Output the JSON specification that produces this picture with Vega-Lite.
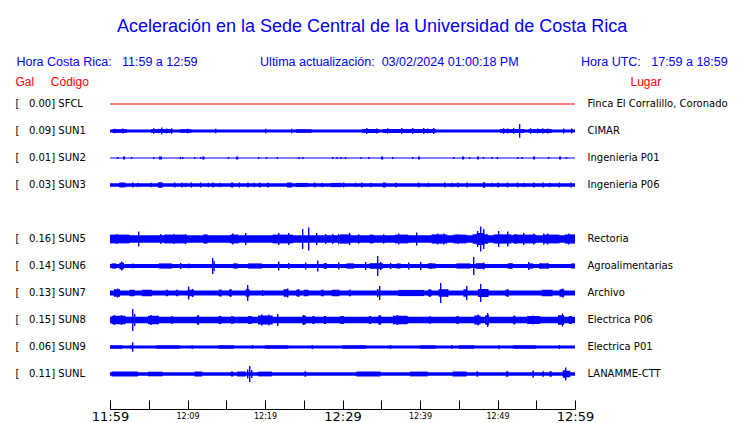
{
"$schema": "https://vega.github.io/schema/vega-lite/v6.json",
"autosize": "none",
"width": 465,
"height": 297,
"padding": {"left": 110, "top": 90.5, "right": 165, "bottom": 35.5},
"background": "white",
"config": {"view": {"stroke": null}, "font": "DejaVu Sans"},
"title": {
  "text": "Aceleración en la Sede Central de la Universidad de Costa Rica",
  "subtitle": "Hora Costa Rica:\u00a0\u00a0\u00a011:59 a 12:59\u00a0\u00a0\u00a0\u00a0\u00a0\u00a0\u00a0\u00a0\u00a0\u00a0\u00a0\u00a0\u00a0\u00a0\u00a0\u00a0\u00a0\u00a0Ultima actualización:\u00a0\u00a003/02/2024 01:00:18 PM\u00a0\u00a0\u00a0\u00a0\u00a0\u00a0\u00a0\u00a0\u00a0\u00a0\u00a0\u00a0\u00a0\u00a0\u00a0\u00a0\u00a0\u00a0Hora UTC:\u00a0\u00a0\u00a017:59 a 18:59",
  "anchor": "middle",
  "frame": "bounds",
  "dx": 1,
  "font": "Liberation Sans",
  "fontSize": 18,
  "fontWeight": "normal",
  "color": "#0000ff",
  "subtitleFont": "Liberation Sans",
  "subtitleFontSize": 12.5,
  "subtitleColor": "#0000ff",
  "subtitlePadding": 20,
  "offset": 7
},
"datasets": {
  "stations": [
    {"s": "SFCL", "lab": "[\u00a0\u00a0\u00a00.00] SFCL", "lugar": "Finca El Corralillo, Coronado"},
    {"s": "SUN1", "lab": "[\u00a0\u00a0\u00a00.09] SUN1", "lugar": "CIMAR"},
    {"s": "SUN2", "lab": "[\u00a0\u00a0\u00a00.01] SUN2", "lugar": "Ingenieria P01"},
    {"s": "SUN3", "lab": "[\u00a0\u00a0\u00a00.03] SUN3", "lugar": "Ingenieria P06"},
    {"s": "SUN5", "lab": "[\u00a0\u00a0\u00a00.16] SUN5", "lugar": "Rectoria"},
    {"s": "SUN6", "lab": "[\u00a0\u00a0\u00a00.14] SUN6", "lugar": "Agroalimentarias"},
    {"s": "SUN7", "lab": "[\u00a0\u00a0\u00a00.13] SUN7", "lugar": "Archivo"},
    {"s": "SUN8", "lab": "[\u00a0\u00a0\u00a00.15] SUN8", "lugar": "Electrica P06"},
    {"s": "SUN9", "lab": "[\u00a0\u00a0\u00a00.06] SUN9", "lugar": "Electrica P01"},
    {"s": "SUNL", "lab": "[\u00a0\u00a0\u00a00.11] SUNL", "lugar": "LANAMME-CTT"}
  ],
  "waves": [
    {"s":"SFCL","t0":0,"t1":60,"a":1},
    {"s":"SUN1","t0":0,"t1":60,"a":3},
    {"s":"SUN2","t0":0,"t1":60,"a":1},
    {"s":"SUN3","t0":0,"t1":60,"a":3.3},
    {"s":"SUN5","t0":0,"t1":60,"a":7.5},
    {"s":"SUN6","t0":0,"t1":60,"a":4},
    {"s":"SUN7","t0":0,"t1":60,"a":5},
    {"s":"SUN8","t0":0,"t1":60,"a":6.7},
    {"s":"SUN9","t0":0,"t1":60,"a":2.8},
    {"s":"SUNL","t0":0,"t1":60,"a":3.6},

    {"s":"SUN1","t0":0.3,"t1":2.2,"a":3.5},
    {"s":"SUN1","t0":5.3,"t1":8.0,"a":3.8},
    {"s":"SUN1","t0":9,"t1":10.5,"a":3.5},
    {"s":"SUN1","t0":24,"t1":26,"a":3.5},
    {"s":"SUN1","t0":32.5,"t1":34.7,"a":3.8},
    {"s":"SUN1","t0":35.2,"t1":42,"a":3.8},
    {"s":"SUN1","t0":50.3,"t1":53.5,"a":3.8},
    {"s":"SUN1","t0":54,"t1":57,"a":3.8},
    {"s":"SUN1","t0":0.52,"t1":0.7,"a":4.5},
    {"s":"SUN1","t0":1.55,"t1":1.73,"a":5},
    {"s":"SUN1","t0":5.55,"t1":5.73,"a":5.5},
    {"s":"SUN1","t0":6.19,"t1":6.37,"a":4.5},
    {"s":"SUN1","t0":6.58,"t1":6.76,"a":7},
    {"s":"SUN1","t0":7.23,"t1":7.41,"a":5},
    {"s":"SUN1","t0":7.87,"t1":8.05,"a":5.5},
    {"s":"SUN1","t0":9.94,"t1":10.12,"a":4.5},
    {"s":"SUN1","t0":13.55,"t1":13.73,"a":4.5},
    {"s":"SUN1","t0":20,"t1":20.18,"a":4.5},
    {"s":"SUN1","t0":23.35,"t1":23.53,"a":4.5},
    {"s":"SUN1","t0":33.03,"t1":33.21,"a":6},
    {"s":"SUN1","t0":34.32,"t1":34.5,"a":5},
    {"s":"SUN1","t0":35.74,"t1":35.92,"a":5.5},
    {"s":"SUN1","t0":37.55,"t1":37.73,"a":6},
    {"s":"SUN1","t0":38.97,"t1":39.15,"a":6},
    {"s":"SUN1","t0":40.39,"t1":40.57,"a":6},
    {"s":"SUN1","t0":40.9,"t1":41.08,"a":5},
    {"s":"SUN1","t0":41.68,"t1":41.86,"a":6},
    {"s":"SUN1","t0":50.71,"t1":50.89,"a":5.5},
    {"s":"SUN1","t0":51.23,"t1":51.41,"a":5},
    {"s":"SUN1","t0":52,"t1":52.18,"a":5.5},
    {"s":"SUN1","t0":52.77,"t1":52.95,"a":13.5},
    {"s":"SUN1","t0":54.19,"t1":54.37,"a":5.5},
    {"s":"SUN1","t0":55.1,"t1":55.28,"a":5},
    {"s":"SUN1","t0":55.74,"t1":55.92,"a":5.5},
    {"s":"SUN1","t0":56.39,"t1":56.57,"a":5},
    {"s":"SUN1","t0":58.45,"t1":58.63,"a":5},
    {"s":"SUN1","t0":59.48,"t1":59.66,"a":5},

    {"s":"SUN2","t0":0.9,"t1":1.08,"a":2},
    {"s":"SUN2","t0":1.68,"t1":1.95,"a":3},
    {"s":"SUN2","t0":2.7,"t1":2.88,"a":2},
    {"s":"SUN2","t0":5.55,"t1":5.73,"a":2},
    {"s":"SUN2","t0":6.3,"t1":6.7,"a":3},
    {"s":"SUN2","t0":9.0,"t1":9.18,"a":2},
    {"s":"SUN2","t0":9.3,"t1":9.48,"a":2},
    {"s":"SUN2","t0":10.84,"t1":11.02,"a":2},
    {"s":"SUN2","t0":11.6,"t1":11.78,"a":2},
    {"s":"SUN2","t0":11.9,"t1":12.2,"a":3},
    {"s":"SUN2","t0":15.2,"t1":15.38,"a":2},
    {"s":"SUN2","t0":16.26,"t1":16.55,"a":3},
    {"s":"SUN2","t0":19.1,"t1":19.28,"a":2},
    {"s":"SUN2","t0":20.1,"t1":20.28,"a":2},
    {"s":"SUN2","t0":21.5,"t1":21.68,"a":2},
    {"s":"SUN2","t0":24.3,"t1":24.48,"a":2},
    {"s":"SUN2","t0":24.8,"t1":24.98,"a":2},
    {"s":"SUN2","t0":28.65,"t1":28.83,"a":2},
    {"s":"SUN2","t0":29.2,"t1":29.38,"a":2},
    {"s":"SUN2","t0":29.7,"t1":29.88,"a":2},
    {"s":"SUN2","t0":30.3,"t1":30.48,"a":2},
    {"s":"SUN2","t0":32.3,"t1":32.48,"a":2},
    {"s":"SUN2","t0":33.3,"t1":33.48,"a":2},
    {"s":"SUN2","t0":34.97,"t1":35.25,"a":3},
    {"s":"SUN2","t0":36.39,"t1":36.57,"a":2},
    {"s":"SUN2","t0":38.97,"t1":39.15,"a":2},
    {"s":"SUN2","t0":39.74,"t1":40.0,"a":3},
    {"s":"SUN2","t0":44.26,"t1":44.44,"a":2},
    {"s":"SUN2","t0":45.42,"t1":45.7,"a":3},
    {"s":"SUN2","t0":46.3,"t1":46.48,"a":2},
    {"s":"SUN2","t0":47.35,"t1":47.6,"a":3},
    {"s":"SUN2","t0":48.1,"t1":48.28,"a":2},
    {"s":"SUN2","t0":49.2,"t1":49.38,"a":2},
    {"s":"SUN2","t0":49.9,"t1":50.08,"a":2},
    {"s":"SUN2","t0":52.52,"t1":52.7,"a":2},
    {"s":"SUN2","t0":53.1,"t1":53.28,"a":2},
    {"s":"SUN2","t0":54.58,"t1":54.85,"a":3},
    {"s":"SUN2","t0":56.5,"t1":56.68,"a":2},
    {"s":"SUN2","t0":57.94,"t1":58.2,"a":3},
    {"s":"SUN2","t0":58.8,"t1":58.98,"a":2},

    {"s":"SUN3","t0":1.2,"t1":2.0,"a":5},
    {"s":"SUN3","t0":6.19,"t1":6.8,"a":5.5},
    {"s":"SUN3","t0":15.6,"t1":15.9,"a":5},
    {"s":"SUN3","t0":22.84,"t1":23.5,"a":5},
    {"s":"SUN3","t0":24,"t1":25.5,"a":4.2},
    {"s":"SUN3","t0":28.5,"t1":29.9,"a":4.2},
    {"s":"SUN3","t0":35.2,"t1":35.6,"a":5},
    {"s":"SUN3","t0":48.1,"t1":48.4,"a":5.5},
    {"s":"SUN3","t0":2.84,"t1":3.02,"a":5},
    {"s":"SUN3","t0":3.5,"t1":3.68,"a":4.5},
    {"s":"SUN3","t0":5.2,"t1":5.38,"a":4.5},
    {"s":"SUN3","t0":8.26,"t1":8.44,"a":5},
    {"s":"SUN3","t0":9.2,"t1":9.38,"a":5},
    {"s":"SUN3","t0":9.68,"t1":9.86,"a":4.5},
    {"s":"SUN3","t0":10.4,"t1":10.58,"a":5},
    {"s":"SUN3","t0":11.6,"t1":11.78,"a":5},
    {"s":"SUN3","t0":12.6,"t1":12.78,"a":4.5},
    {"s":"SUN3","t0":13.2,"t1":13.38,"a":5},
    {"s":"SUN3","t0":14.1,"t1":14.28,"a":4.5},
    {"s":"SUN3","t0":16.6,"t1":16.78,"a":5},
    {"s":"SUN3","t0":17.7,"t1":17.88,"a":5},
    {"s":"SUN3","t0":18.5,"t1":18.68,"a":4.5},
    {"s":"SUN3","t0":19.23,"t1":19.41,"a":5},
    {"s":"SUN3","t0":20.3,"t1":20.48,"a":5},
    {"s":"SUN3","t0":26.32,"t1":26.5,"a":5},
    {"s":"SUN3","t0":27.3,"t1":27.48,"a":4.5},
    {"s":"SUN3","t0":30.06,"t1":30.24,"a":5},
    {"s":"SUN3","t0":31.6,"t1":31.78,"a":4.5},
    {"s":"SUN3","t0":32.4,"t1":32.58,"a":5},
    {"s":"SUN3","t0":33.6,"t1":33.78,"a":4.5},
    {"s":"SUN3","t0":36.8,"t1":36.98,"a":5},
    {"s":"SUN3","t0":39.74,"t1":39.92,"a":5},
    {"s":"SUN3","t0":41.0,"t1":41.18,"a":4.5},
    {"s":"SUN3","t0":43.1,"t1":43.28,"a":5},
    {"s":"SUN3","t0":44.0,"t1":44.18,"a":4.5},
    {"s":"SUN3","t0":44.8,"t1":44.98,"a":5},
    {"s":"SUN3","t0":46.0,"t1":46.18,"a":5},
    {"s":"SUN3","t0":49.2,"t1":49.38,"a":4.5},
    {"s":"SUN3","t0":50.0,"t1":50.18,"a":5},
    {"s":"SUN3","t0":51.2,"t1":51.38,"a":5},
    {"s":"SUN3","t0":52.5,"t1":52.68,"a":5},
    {"s":"SUN3","t0":53.3,"t1":53.48,"a":4.5},
    {"s":"SUN3","t0":54.6,"t1":54.78,"a":5},
    {"s":"SUN3","t0":55.8,"t1":55.98,"a":5},
    {"s":"SUN3","t0":56.7,"t1":56.88,"a":4.5},
    {"s":"SUN3","t0":57.9,"t1":58.08,"a":5},
    {"s":"SUN3","t0":59.4,"t1":59.58,"a":5},

    {"s":"SUN5","t0":0,"t1":2.5,"a":8.8},
    {"s":"SUN5","t0":7,"t1":9.7,"a":8.8},
    {"s":"SUN5","t0":12,"t1":12.6,"a":8.8},
    {"s":"SUN5","t0":15.5,"t1":16.6,"a":8.8},
    {"s":"SUN5","t0":21,"t1":23.6,"a":8.8},
    {"s":"SUN5","t0":29.7,"t1":31,"a":9.2},
    {"s":"SUN5","t0":33.5,"t1":34,"a":8.8},
    {"s":"SUN5","t0":36.8,"t1":38.5,"a":8.8},
    {"s":"SUN5","t0":41.5,"t1":43.5,"a":9.2},
    {"s":"SUN5","t0":44.3,"t1":46,"a":8.8},
    {"s":"SUN5","t0":46.8,"t1":48.8,"a":9.5},
    {"s":"SUN5","t0":47.3,"t1":48.3,"a":12},
    {"s":"SUN5","t0":49.5,"t1":51.8,"a":9.2},
    {"s":"SUN5","t0":52,"t1":55,"a":8.8},
    {"s":"SUN5","t0":56,"t1":58,"a":8.8},
    {"s":"SUN5","t0":58.7,"t1":60,"a":9.2},
    {"s":"SUN5","t0":0.77,"t1":0.95,"a":10},
    {"s":"SUN5","t0":3.61,"t1":3.79,"a":15},
    {"s":"SUN5","t0":6.45,"t1":6.63,"a":10},
    {"s":"SUN5","t0":8.13,"t1":8.31,"a":10},
    {"s":"SUN5","t0":9.68,"t1":9.86,"a":10},
    {"s":"SUN5","t0":12.26,"t1":12.44,"a":9.5},
    {"s":"SUN5","t0":15.74,"t1":15.92,"a":11},
    {"s":"SUN5","t0":17.42,"t1":17.6,"a":12},
    {"s":"SUN5","t0":21.68,"t1":21.86,"a":12},
    {"s":"SUN5","t0":22.97,"t1":23.15,"a":12},
    {"s":"SUN5","t0":24.77,"t1":24.95,"a":20},
    {"s":"SUN5","t0":25.55,"t1":25.73,"a":23},
    {"s":"SUN5","t0":26.58,"t1":26.76,"a":12},
    {"s":"SUN5","t0":27.74,"t1":27.92,"a":10},
    {"s":"SUN5","t0":28.65,"t1":28.83,"a":10},
    {"s":"SUN5","t0":29.42,"t1":29.6,"a":10},
    {"s":"SUN5","t0":30.84,"t1":31.02,"a":12},
    {"s":"SUN5","t0":32,"t1":32.18,"a":9.5},
    {"s":"SUN5","t0":35.23,"t1":35.41,"a":9.5},
    {"s":"SUN5","t0":37.16,"t1":37.34,"a":11},
    {"s":"SUN5","t0":39.48,"t1":39.66,"a":13},
    {"s":"SUN5","t0":42.19,"t1":42.37,"a":11},
    {"s":"SUN5","t0":42.97,"t1":43.15,"a":11},
    {"s":"SUN5","t0":44.77,"t1":44.95,"a":9.5},
    {"s":"SUN5","t0":47.35,"t1":47.53,"a":16},
    {"s":"SUN5","t0":47.74,"t1":47.92,"a":25},
    {"s":"SUN5","t0":48.13,"t1":48.31,"a":20},
    {"s":"SUN5","t0":50.06,"t1":50.24,"a":16},
    {"s":"SUN5","t0":51.23,"t1":51.41,"a":15},
    {"s":"SUN5","t0":52.26,"t1":52.44,"a":10},
    {"s":"SUN5","t0":53.29,"t1":53.47,"a":12},
    {"s":"SUN5","t0":54.58,"t1":54.76,"a":11},
    {"s":"SUN5","t0":55.87,"t1":56.05,"a":11},
    {"s":"SUN5","t0":56.39,"t1":56.57,"a":11},
    {"s":"SUN5","t0":59.1,"t1":59.28,"a":11},

    {"s":"SUN6","t0":0.2,"t1":0.8,"a":5.2},
    {"s":"SUN6","t0":1.2,"t1":1.8,"a":6.5},
    {"s":"SUN6","t0":6.3,"t1":8,"a":5.2},
    {"s":"SUN6","t0":16,"t1":16.5,"a":5.2},
    {"s":"SUN6","t0":17.8,"t1":19.6,"a":5.2},
    {"s":"SUN6","t0":27.5,"t1":28,"a":5.2},
    {"s":"SUN6","t0":30.5,"t1":31.5,"a":5.2},
    {"s":"SUN6","t0":33.5,"t1":35.2,"a":5.6},
    {"s":"SUN6","t0":37,"t1":37.5,"a":5.2},
    {"s":"SUN6","t0":41,"t1":42,"a":5.2},
    {"s":"SUN6","t0":44.7,"t1":46.5,"a":5.2},
    {"s":"SUN6","t0":47.2,"t1":48.3,"a":5.6},
    {"s":"SUN6","t0":51.3,"t1":52,"a":5.2},
    {"s":"SUN6","t0":54,"t1":54.6,"a":5.2},
    {"s":"SUN6","t0":55.4,"t1":56.5,"a":5.2},
    {"s":"SUN6","t0":59.5,"t1":60,"a":5.2},
    {"s":"SUN6","t0":1.42,"t1":1.6,"a":9},
    {"s":"SUN6","t0":2.84,"t1":3.02,"a":5},
    {"s":"SUN6","t0":9.03,"t1":9.21,"a":6},
    {"s":"SUN6","t0":10.06,"t1":10.24,"a":5},
    {"s":"SUN6","t0":13.16,"t1":13.34,"a":16},
    {"s":"SUN6","t0":13.34,"t1":13.52,"a":10},
    {"s":"SUN6","t0":15.87,"t1":16.05,"a":5},
    {"s":"SUN6","t0":21.68,"t1":21.86,"a":9},
    {"s":"SUN6","t0":22.97,"t1":23.15,"a":6},
    {"s":"SUN6","t0":25.16,"t1":25.34,"a":7},
    {"s":"SUN6","t0":26.71,"t1":26.89,"a":11},
    {"s":"SUN6","t0":27.74,"t1":27.92,"a":6},
    {"s":"SUN6","t0":29.42,"t1":29.6,"a":7},
    {"s":"SUN6","t0":30.84,"t1":31.02,"a":5},
    {"s":"SUN6","t0":32.9,"t1":33.08,"a":8},
    {"s":"SUN6","t0":34.45,"t1":34.63,"a":20},
    {"s":"SUN6","t0":34.84,"t1":35.02,"a":8},
    {"s":"SUN6","t0":36.13,"t1":36.31,"a":6},
    {"s":"SUN6","t0":38.45,"t1":38.63,"a":7},
    {"s":"SUN6","t0":40,"t1":40.18,"a":8},
    {"s":"SUN6","t0":41.29,"t1":41.47,"a":6},
    {"s":"SUN6","t0":46.84,"t1":47.02,"a":18},
    {"s":"SUN6","t0":48.13,"t1":48.31,"a":7},
    {"s":"SUN6","t0":51.61,"t1":51.79,"a":6},
    {"s":"SUN6","t0":53.94,"t1":54.12,"a":8},
    {"s":"SUN6","t0":55.48,"t1":55.66,"a":6},
    {"s":"SUN6","t0":56.39,"t1":56.57,"a":6},

    {"s":"SUN7","t0":0.5,"t1":1.3,"a":7.5},
    {"s":"SUN7","t0":2.5,"t1":3.2,"a":6.5},
    {"s":"SUN7","t0":4.1,"t1":5.4,"a":6.5},
    {"s":"SUN7","t0":7.2,"t1":7.5,"a":6.5},
    {"s":"SUN7","t0":8.5,"t1":8.8,"a":6.5},
    {"s":"SUN7","t0":10,"t1":10.8,"a":6.5},
    {"s":"SUN7","t0":14,"t1":14.4,"a":6.5},
    {"s":"SUN7","t0":15.3,"t1":15.7,"a":6.5},
    {"s":"SUN7","t0":17.5,"t1":18,"a":7.5},
    {"s":"SUN7","t0":22.4,"t1":23,"a":7.5},
    {"s":"SUN7","t0":24,"t1":24.4,"a":6.5},
    {"s":"SUN7","t0":25,"t1":25.6,"a":6.5},
    {"s":"SUN7","t0":27.2,"t1":27.6,"a":6.5},
    {"s":"SUN7","t0":28.6,"t1":29.6,"a":6.5},
    {"s":"SUN7","t0":30.8,"t1":31.1,"a":6.5},
    {"s":"SUN7","t0":37.2,"t1":40.5,"a":6.2},
    {"s":"SUN7","t0":41,"t1":41.5,"a":6.5},
    {"s":"SUN7","t0":42.4,"t1":43.5,"a":7.5},
    {"s":"SUN7","t0":45.6,"t1":46.1,"a":7.5},
    {"s":"SUN7","t0":47.5,"t1":48.8,"a":8},
    {"s":"SUN7","t0":51,"t1":51.4,"a":6.5},
    {"s":"SUN7","t0":55.7,"t1":57.1,"a":6.5},
    {"s":"SUN7","t0":58,"t1":58.6,"a":7.5},
    {"s":"SUN7","t0":0.9,"t1":1.08,"a":9},
    {"s":"SUN7","t0":10.06,"t1":10.24,"a":13},
    {"s":"SUN7","t0":10.58,"t1":10.76,"a":8},
    {"s":"SUN7","t0":14.19,"t1":14.37,"a":7},
    {"s":"SUN7","t0":15.48,"t1":15.66,"a":8},
    {"s":"SUN7","t0":17.68,"t1":17.86,"a":16},
    {"s":"SUN7","t0":19.61,"t1":19.79,"a":6},
    {"s":"SUN7","t0":22.84,"t1":23.02,"a":9},
    {"s":"SUN7","t0":24.26,"t1":24.44,"a":8},
    {"s":"SUN7","t0":34.45,"t1":34.63,"a":8},
    {"s":"SUN7","t0":34.71,"t1":34.89,"a":14},
    {"s":"SUN7","t0":41.16,"t1":41.34,"a":8},
    {"s":"SUN7","t0":42.58,"t1":42.76,"a":20},
    {"s":"SUN7","t0":43.48,"t1":43.66,"a":8},
    {"s":"SUN7","t0":45.94,"t1":46.12,"a":14},
    {"s":"SUN7","t0":47.74,"t1":47.92,"a":18},
    {"s":"SUN7","t0":48.65,"t1":48.83,"a":8},
    {"s":"SUN7","t0":51.23,"t1":51.41,"a":8},
    {"s":"SUN7","t0":58.32,"t1":58.5,"a":9},

    {"s":"SUN8","t0":0.2,"t1":2,"a":8.5},
    {"s":"SUN8","t0":4.9,"t1":6.3,"a":8.5},
    {"s":"SUN8","t0":7.9,"t1":8.1,"a":8},
    {"s":"SUN8","t0":11.2,"t1":11.5,"a":8.5},
    {"s":"SUN8","t0":14,"t1":14.4,"a":8},
    {"s":"SUN8","t0":15.6,"t1":15.9,"a":8},
    {"s":"SUN8","t0":17.8,"t1":18.3,"a":8},
    {"s":"SUN8","t0":19.1,"t1":21,"a":9},
    {"s":"SUN8","t0":24.8,"t1":25.3,"a":8.5},
    {"s":"SUN8","t0":26.1,"t1":26.4,"a":8},
    {"s":"SUN8","t0":27.6,"t1":27.9,"a":8},
    {"s":"SUN8","t0":29.7,"t1":30.2,"a":8},
    {"s":"SUN8","t0":33.4,"t1":33.7,"a":8},
    {"s":"SUN8","t0":34.6,"t1":35,"a":8.5},
    {"s":"SUN8","t0":36.5,"t1":38.4,"a":8.5},
    {"s":"SUN8","t0":41.2,"t1":41.4,"a":8},
    {"s":"SUN8","t0":44.7,"t1":45,"a":8},
    {"s":"SUN8","t0":47,"t1":47.8,"a":9},
    {"s":"SUN8","t0":48.4,"t1":48.9,"a":9.5},
    {"s":"SUN8","t0":52,"t1":52.3,"a":8},
    {"s":"SUN8","t0":53.8,"t1":55.5,"a":8},
    {"s":"SUN8","t0":57.8,"t1":58.6,"a":9.5},
    {"s":"SUN8","t0":59.2,"t1":59.6,"a":8},
    {"s":"SUN8","t0":0.5,"t1":0.68,"a":10},
    {"s":"SUN8","t0":1.4,"t1":1.58,"a":10},
    {"s":"SUN8","t0":2.84,"t1":3.02,"a":22},
    {"s":"SUN8","t0":3.1,"t1":3.28,"a":12},
    {"s":"SUN8","t0":5.2,"t1":5.38,"a":10},
    {"s":"SUN8","t0":11.3,"t1":11.48,"a":10},
    {"s":"SUN8","t0":19.5,"t1":19.68,"a":11},
    {"s":"SUN8","t0":20.4,"t1":20.58,"a":11},
    {"s":"SUN8","t0":21.55,"t1":21.73,"a":12},
    {"s":"SUN8","t0":24.9,"t1":25.08,"a":10},
    {"s":"SUN8","t0":34.71,"t1":34.89,"a":10},
    {"s":"SUN8","t0":37.0,"t1":37.18,"a":10},
    {"s":"SUN8","t0":47.4,"t1":47.58,"a":11},
    {"s":"SUN8","t0":48.65,"t1":48.83,"a":14},
    {"s":"SUN8","t0":52.1,"t1":52.28,"a":9},
    {"s":"SUN8","t0":54.5,"t1":54.68,"a":9},
    {"s":"SUN8","t0":58.3,"t1":58.48,"a":13},

    {"s":"SUN9","t0":0,"t1":1.6,"a":3.4},
    {"s":"SUN9","t0":6,"t1":9,"a":3.4},
    {"s":"SUN9","t0":14,"t1":16,"a":3.4},
    {"s":"SUN9","t0":20,"t1":23,"a":3.4},
    {"s":"SUN9","t0":30,"t1":33,"a":3.4},
    {"s":"SUN9","t0":40,"t1":42,"a":3.4},
    {"s":"SUN9","t0":45,"t1":47,"a":3.4},
    {"s":"SUN9","t0":52,"t1":55,"a":3.4},
    {"s":"SUN9","t0":2.6,"t1":2.78,"a":4},
    {"s":"SUN9","t0":2.84,"t1":3.02,"a":9.5},
    {"s":"SUN9","t0":10.5,"t1":10.68,"a":4},
    {"s":"SUN9","t0":18.3,"t1":18.48,"a":4},
    {"s":"SUN9","t0":26,"t1":26.18,"a":4},
    {"s":"SUN9","t0":36.1,"t1":36.28,"a":4},
    {"s":"SUN9","t0":44,"t1":44.18,"a":4},
    {"s":"SUN9","t0":50.1,"t1":50.28,"a":4},
    {"s":"SUN9","t0":57.9,"t1":58.08,"a":4},

    {"s":"SUNL","t0":0.2,"t1":3.6,"a":5},
    {"s":"SUNL","t0":4.9,"t1":6.8,"a":4.6},
    {"s":"SUNL","t0":10.9,"t1":11.9,"a":5},
    {"s":"SUNL","t0":15.6,"t1":15.9,"a":5},
    {"s":"SUNL","t0":16.4,"t1":17.5,"a":5},
    {"s":"SUNL","t0":19.1,"t1":20.9,"a":4.8},
    {"s":"SUNL","t0":25.1,"t1":25.3,"a":5.5},
    {"s":"SUNL","t0":31.8,"t1":34.9,"a":5},
    {"s":"SUNL","t0":38.7,"t1":41,"a":4.8},
    {"s":"SUNL","t0":44.2,"t1":46,"a":5},
    {"s":"SUNL","t0":47.3,"t1":47.5,"a":5.5},
    {"s":"SUNL","t0":51.1,"t1":51.4,"a":5.5},
    {"s":"SUNL","t0":54.5,"t1":54.7,"a":7},
    {"s":"SUNL","t0":55.8,"t1":56,"a":5.5},
    {"s":"SUNL","t0":56.7,"t1":57,"a":5.5},
    {"s":"SUNL","t0":58.4,"t1":59.4,"a":6.5},
    {"s":"SUNL","t0":17.68,"t1":17.86,"a":9},
    {"s":"SUNL","t0":17.94,"t1":18.12,"a":16},
    {"s":"SUNL","t0":18.2,"t1":18.38,"a":8},
    {"s":"SUNL","t0":58.5,"t1":58.68,"a":8},
    {"s":"SUNL","t0":58.71,"t1":58.89,"a":13}
  ]
},
"layer": [
  {
    "data": {"name": "waves"},
    "transform": [
      {"lookup": "s", "from": {"data": {"name": "stations"}, "key": "s", "fields": ["lab"]}}
    ],
    "mark": {"type": "bar", "strokeWidth": 0, "cornerRadius": 0},
    "encoding": {
      "x": {
        "field": "t0", "type": "quantitative",
        "scale": {"domain": [0, 60], "nice": false, "zero": false},
        "axis": {
          "orient": "bottom", "offset": 21.5, "title": null, "grid": false,
          "values": [0, 5, 10, 15, 20, 25, 30, 35, 40, 45, 50, 55, 60],
          "domainColor": "black", "domainWidth": 1,
          "tickColor": "black", "tickSize": -9, "tickWidth": 1,
          "labelExpr": "datum.value % 10 ? '' : floor((719 + datum.value) / 60) + ':' + (((719 + datum.value) % 60) < 10 ? '0' : '') + ((719 + datum.value) % 60)",
          "labelFont": "DejaVu Sans",
          "labelFontSize": {"condition": {"test": "datum.value % 30 === 0", "value": 13}, "value": 8},
          "labelColor": "black", "labelBaseline": "middle", "labelPadding": 16,
          "labelFlush": false, "labelOverlap": false
        }
      },
      "x2": {"field": "t1"},
      "y": {
        "field": "lab", "type": "nominal",
        "scale": {
          "type": "band", "paddingInner": 0, "paddingOuter": 0,
          "domain": ["[\u00a0\u00a0\u00a00.00] SFCL", "[\u00a0\u00a0\u00a00.09] SUN1", "[\u00a0\u00a0\u00a00.01] SUN2", "[\u00a0\u00a0\u00a00.03] SUN3", " ", "[\u00a0\u00a0\u00a00.16] SUN5", "[\u00a0\u00a0\u00a00.14] SUN6", "[\u00a0\u00a0\u00a00.13] SUN7", "[\u00a0\u00a0\u00a00.15] SUN8", "[\u00a0\u00a0\u00a00.06] SUN9", "[\u00a0\u00a0\u00a00.11] SUNL"]
        },
        "axis": {
          "orient": "left", "ticks": false, "domain": false, "grid": false,
          "labelAlign": "left", "labelPadding": 95, "labelLimit": 0,
          "labelFont": "DejaVu Sans", "labelFontSize": 10, "labelColor": "black", "labelBaseline": "middle",
          "title": "Gal\u00a0\u00a0\u00a0\u00a0\u00a0Código", "titleAngle": 0, "titleAlign": "left", "titleBaseline": "alphabetic",
          "titleX": -95, "titleY": -5.5, "titleColor": "#ff0000", "titleFont": "Liberation Sans",
          "titleFontSize": 12, "titleFontWeight": "normal"
        }
      },
      "size": {"field": "a", "type": "quantitative", "scale": {"type": "linear", "domain": [0, 27], "range": [0, 27], "zero": true}, "legend": null},
      "color": {"condition": {"test": "datum.s === 'SFCL'", "value": "#ff0000"}, "value": "#0000ff"}
    }
  },
  {
    "data": {"name": "stations"},
    "mark": {"type": "rule", "opacity": 0},
    "encoding": {
      "y": {
        "field": "lugar", "type": "nominal",
        "scale": {
          "type": "band", "paddingInner": 0, "paddingOuter": 0,
          "domain": ["Finca El Corralillo, Coronado", "CIMAR", "Ingenieria P01", "Ingenieria P06", " ", "Rectoria", "Agroalimentarias", "Archivo", "Electrica P06", "Electrica P01", "LANAMME-CTT"]
        },
        "axis": {
          "orient": "right", "ticks": false, "domain": false, "grid": false,
          "labelAlign": "left", "labelPadding": 12, "labelLimit": 0,
          "labelFont": "DejaVu Sans", "labelFontSize": 10, "labelColor": "black", "labelBaseline": "middle",
          "title": "Lugar", "titleAngle": 0, "titleAlign": "left", "titleBaseline": "alphabetic",
          "titleX": 55, "titleY": -5.5, "titleColor": "#ff0000", "titleFont": "Liberation Sans",
          "titleFontSize": 12, "titleFontWeight": "normal"
        }
      }
    }
  }
],
"resolve": {"scale": {"y": "independent"}, "axis": {"y": "independent"}}
}
